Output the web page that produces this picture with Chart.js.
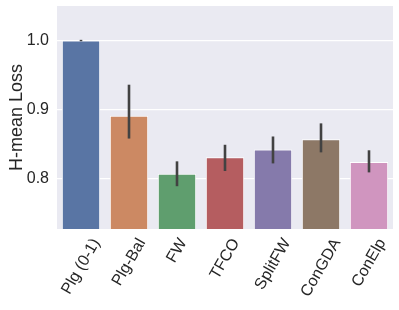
<!DOCTYPE html>
<html>
<head>
<meta charset="utf-8">
<script src="https://cdn.jsdelivr.net/npm/chart.js@4"></script>
<style>
  html, body { margin: 0; padding: 0; background: #ffffff; }
  #wrap { width: 399px; height: 310px; }
</style>
</head>
<body>
<div id="wrap"><canvas id="chart" width="399" height="310"></canvas></div>
<script>
// data
const methods = ['Plg (0-1)', 'Plg-Bal', 'FW', 'TFCO', 'SplitFW', 'ConGDA', 'ConElp'];
const meanLoss = [1.000, 0.891, 0.807, 0.831, 0.842, 0.857, 0.824];
const errLow = [0.999, 0.858, 0.789, 0.811, 0.822, 0.838, 0.809];
const errHigh = [1.001, 0.936, 0.825, 0.849, 0.861, 0.880, 0.841];
const yTicks = [0.8, 0.9, 1.0];

const barColors = ['#5975a4', '#cc8963', '#5f9e6e', '#b55d60', '#857aab', '#8d7866', '#d095bf'];
const textColor = '#262626';
const fontFamily = '"Liberation Sans", Arial, sans-serif';
const labelSize = 16;

// seaborn style grey panel
const panelBg = {
    id: 'panelBg',
    beforeDraw: function (chart) {
        let a = chart.chartArea;
        let ctx = chart.ctx;
        ctx.save();
        ctx.fillStyle = '#eaeaf2';
        ctx.fillRect(a.left, a.top, a.right - a.left, a.bottom - a.top);
        ctx.restore();
    }
};

// confidence interval lines on top of the bars
const errorBars = {
    id: 'errorBars',
    afterDatasetsDraw: function (chart) {
        let ctx = chart.ctx;
        let y = chart.scales.y;
        let meta = chart.getDatasetMeta(0);
        ctx.save();
        ctx.strokeStyle = '#424242';
        ctx.lineWidth = 2.6;
        meta.data.forEach(function (bar, i) {
            ctx.beginPath();
            ctx.moveTo(bar.x, y.getPixelForValue(errLow[i]));
            ctx.lineTo(bar.x, y.getPixelForValue(errHigh[i]));
            ctx.stroke();
        });
        ctx.restore();
    }
};

// rotated x labels, box centred under the tick like matplotlib does
const centredLabels = {
    id: 'centredLabels',
    afterDraw: function (chart) {
        let ctx = chart.ctx;
        let xs = chart.scales.x;
        let top = chart.chartArea.bottom + 7;
        let ang = Math.PI / 3;
        ctx.save();
        ctx.font = labelSize + 'px ' + fontFamily;
        ctx.fillStyle = textColor;
        ctx.textAlign = 'center';
        ctx.textBaseline = 'middle';
        methods.forEach(function (lab, i) {
            let w = ctx.measureText(lab).width;
            let h = labelSize;
            let boxH = w * Math.sin(ang) + h * Math.cos(ang);
            ctx.save();
            ctx.translate(xs.getPixelForTick(i), top + boxH / 2);
            ctx.rotate(-ang);
            ctx.fillText(lab, 0, 0);
            ctx.restore();
        });
        ctx.restore();
    }
};

new Chart(document.getElementById('chart').getContext('2d'), {
    type: 'bar',
    data: {
        labels: methods,
        datasets: [{
            data: meanLoss,
            backgroundColor: barColors,
            borderColor: '#ffffff',
            borderWidth: 1,
            categoryPercentage: 1.0,
            barPercentage: 0.8
        }]
    },
    options: {
        responsive: false,
        animation: false,
        devicePixelRatio: 1,
        layout: { padding: { left: 0, right: 6, top: 6, bottom: 0 } },
        plugins: {
            legend: { display: false },
            tooltip: { enabled: false }
        },
        scales: {
            x: {
                grid: { display: false, drawTicks: false },
                border: { display: false },
                ticks: { display: false },
                afterFit: function (scale) {
                    scale.height = 81;
                    scale.paddingLeft = 0;
                    scale.paddingRight = 0;
                }
            },
            y: {
                min: 0.727,
                max: 1.05,
                afterBuildTicks: function (axis) {
                    axis.ticks = yTicks.map(function (v) { return { value: v }; });
                },
                grid: { color: '#ffffff', lineWidth: 1.2, drawTicks: false },
                border: { display: false },
                ticks: {
                    color: textColor,
                    font: { family: fontFamily, size: 16 },
                    padding: 8,
                    callback: function (v) { return v.toFixed(1); }
                },
                title: {
                    display: true,
                    text: 'H-mean Loss',
                    color: textColor,
                    font: { family: fontFamily, size: 18 },
                    padding: { top: 6, bottom: 4 }
                },
                afterFit: function (scale) {
                    scale.width = 57;
                    scale.paddingTop = 0;
                    scale.paddingBottom = 0;
                }
            }
        }
    },
    plugins: [panelBg, errorBars, centredLabels]
});
</script>
</body>
</html>
